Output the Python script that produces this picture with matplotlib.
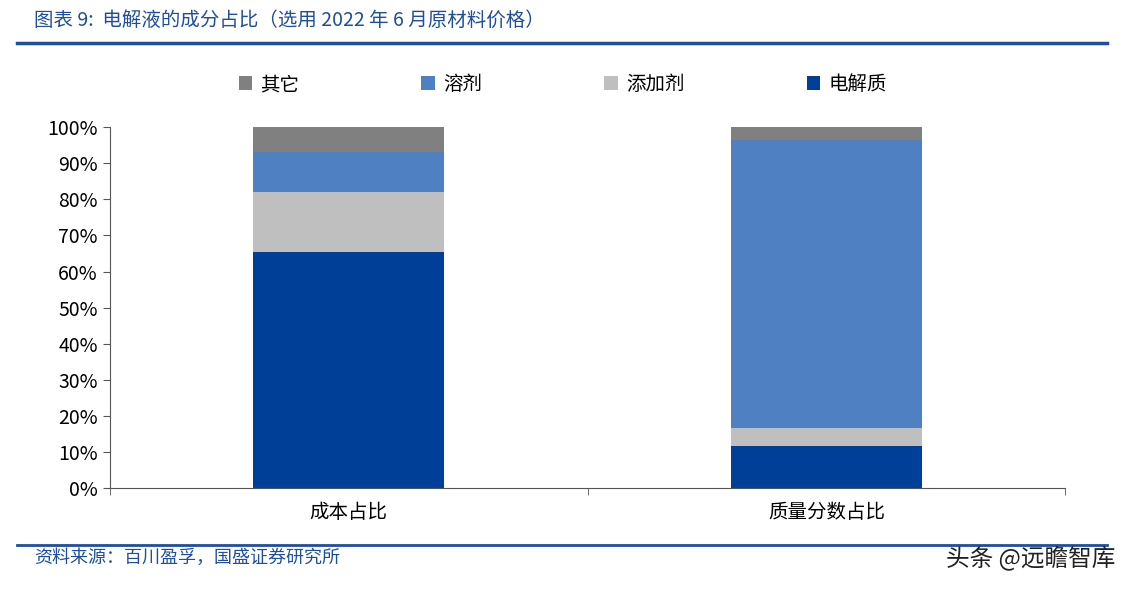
import matplotlib
matplotlib.use("Agg")
import matplotlib.pyplot as plt
from matplotlib.lines import Line2D

plt.rcParams['font.family'] = ['Noto Sans CJK SC', 'DejaVu Sans']

categories = ["成本占比", "质量分数占比"]
electrolyte = [65.5, 11.7]
additive = [16.5, 5.0]
solvent = [11.0, 79.7]
other = [7.0, 3.6]
yticks = [0, 10, 20, 30, 40, 50, 60, 70, 80, 90, 100]

colors = {"电解质": "#003F98", "添加剂": "#BFBFBF", "溶剂": "#4F81C2", "其它": "#808080"}

fig = plt.figure(figsize=(11.32, 5.91), dpi=100)
ax = fig.add_axes([0.097, 0.174, 0.844, 0.611])
x = range(len(categories))
w = 0.40
b = [0, 0]
handles = {}
for name, vals in [("电解质", electrolyte), ("添加剂", additive), ("溶剂", solvent), ("其它", other)]:
    handles[name] = ax.bar(x, vals, w, bottom=b, color=colors[name], label=name)
    b = [p + q for p, q in zip(b, vals)]

ax.set_xlim(-0.5, 1.5)
ax.set_ylim(0, 100)
ax.set_yticks(yticks)
ax.set_yticklabels([f"{v}%" for v in yticks], fontsize=14)
ax.set_xticks(list(x))
ax.set_xticklabels(categories, fontsize=14)
ax.set_xticks([-0.5, 0.5, 1.5], minor=True)
ax.tick_params(axis='x', which='major', length=0, pad=10)
ax.tick_params(axis='x', which='minor', length=5, color='#555555')
ax.tick_params(axis='y', length=5, color='#555555')
for s in ['top', 'right']:
    ax.spines[s].set_visible(False)
for s in ['left', 'bottom']:
    ax.spines[s].set_color('#555555')

order = ["其它", "溶剂", "添加剂", "电解质"]
fig.legend([handles[n] for n in order], order, loc='center', bbox_to_anchor=(0.497, 0.857),
           ncol=4, frameon=False, fontsize=14, columnspacing=6.3, handlelength=0.7, handleheight=0.7,
           handletextpad=0.4)

fig.text(0.03, 0.965, "图表 9:  电解液的成分占比（选用 2022 年 6 月原材料价格）", fontsize=14,
         color='#1F4E9C', style='italic', va='center')
fig.add_artist(Line2D([0.015, 0.978], [0.927, 0.927], color='#1F4E9C', lw=2.5))
fig.add_artist(Line2D([0.015, 0.978], [0.077, 0.077], color='#1F4E9C', lw=2.0))
fig.text(0.03, 0.057, "资料来源：百川盈孚，国盛证券研究所", fontsize=13, color='#1F4E9C',
         style='italic', va='center')
fig.text(0.985, 0.057, "头条 @远瞻智库", fontsize=17, color='#222222', ha='right', va='center')

fig.savefig("out.png", dpi=100)
